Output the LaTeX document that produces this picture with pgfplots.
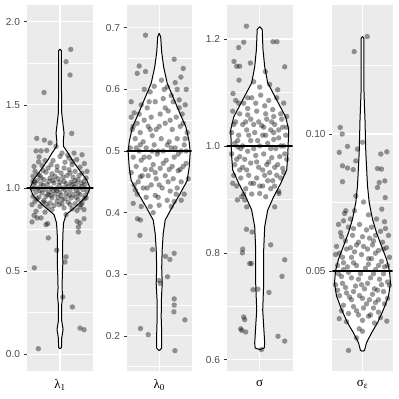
\documentclass[border=0pt]{standalone}
\usepackage{pgfplots}
\pgfplotsset{compat=1.18}
\usepackage{pgfplotstable}
\usepgfplotslibrary{fillbetween}
\usepackage{fontspec}
\setmainfont{Liberation Sans}
\newfontfamily\grk{Liberation Serif}

\definecolor{ggbg}{HTML}{EBEBEB}
\definecolor{ggtick}{HTML}{333333}
\definecolor{ggtext}{HTML}{4D4D4D}

% violin outlines: value, half width (px)
\pgfplotstableread{
v hw
1.835 0
1.825 1.4
1.60 1.4
1.45 1.7
1.38 3
1.33 4
1.28 3.2
1.25 3.5
1.21 8
1.17 12
1.11 19
1.05 26.5
1.00 30
0.95 26.5
0.89 16
0.84 6
0.79 3.5
0.72 2.8
0.62 2.5
0.55 2.8
0.48 2.3
0.40 2
0.35 2.5
0.30 1.7
0.20 1.7
0.15 3
0.10 1.7
0.04 1.4
0.035 0
}\vioA

\pgfplotstableread{
v hw
0.691 0
0.685 1.5
0.66 2.5
0.636 4.5
0.61 8
0.583 15
0.56 21
0.539 26.7
0.515 30
0.498 31
0.474 30
0.452 28
0.431 21
0.409 13
0.388 6
0.366 4
0.34 3
0.311 2.5
0.285 3
0.26 2.2
0.23 2
0.204 2.5
0.18 2.5
0.176 0
}\vioB

\pgfplotstableread{
v hw
1.223 0
1.218 2.5
1.18 3.3
1.148 5
1.118 8
1.086 17
1.054 26
1.03 29
1.005 28.5
0.98 28
0.955 27
0.93 21
0.905 14
0.88 8
0.849 5
0.806 4
0.743 4
0.693 3
0.662 4
0.631 5
0.622 4.5
0.619 0
}\vioC

\pgfplotstableread{
v hw
0.1356 0
0.135 1.3
0.115 1.5
0.105 2.5
0.0933 3.3
0.0811 5
0.075 6.7
0.0689 10
0.064 14
0.0591 19
0.0543 24
0.05 27
0.0457 28
0.0409 26
0.036 21
0.0311 15
0.0274 9
0.0238 4
0.021 2
0.0207 0
}\vioD

% jittered estimates: offset (px), value
\pgfplotstableread{
dx v
10.7 1.833
6 1.759
10 1.679
-16 1.574
11.7 1.328
-23.3 1.298
-15.7 1.288
-10 1.271
-24 1.223
-19 1.223
-13.3 1.226
-21 1.187
-21.5 1.157
7.7 1.197
16.7 1.171
24.3 1.147
-4 1.25
2 1.21
-7 1.165
12 1.14
20 1.125
-26 1.13
-17 1.105
-25 1.10
-12 1.12
-3 1.13
5 1.155
9 1.11
15 1.10
22 1.09
26 1.06
-27 1.07
-20 1.075
-8 1.085
1 1.09
7 1.075
13 1.065
18 1.05
-23 1.045
-16 1.05
-10 1.06
-2 1.055
4 1.04
11 1.035
21 1.03
25 1.02
-26 1.02
-19 1.025
-13 1.02
-6 1.03
-1 1.015
8 1.01
14 1.005
19 1.0
-27 0.995
-22 1.0
-15 0.99
-9 1.0
-4 0.995
3 1.0
10 0.985
16 0.985
23 0.99
27 0.98
-24 0.975
-18 0.97
-11 0.975
-5 0.965
0 0.975
6 0.965
13 0.96
20 0.96
25 0.955
-27 0.95
-21 0.945
-14 0.95
-8 0.94
-2 0.945
5 0.935
11 0.94
18 0.93
24 0.935
-25 0.92
-17 0.915
-10 0.91
-3 0.92
2 0.905
8 0.915
15 0.905
22 0.91
-28 0.90
-20 0.89
-12 0.885
-6 0.895
4 0.88
12 0.875
20 0.885
17 0.865
24 0.87
-24 0.86
-15 0.855
-8 0.87
-26 0.835
-19 0.82
-28 0.796
-23 0.82
-12.3 0.786
-14 0.78
6 0.84
17 0.80
20 0.79
24 0.815
-3 1.105
-18 1.135
9 1.18
-11 1.04
16 1.025
-7 0.985
1 0.955
-16 0.925
-22 1.08
-14 1.095
-5 1.07
3 1.065
10 1.09
19 1.075
24 1.04
-25 1.035
-17 1.015
-7 1.045
0 1.035
6 1.025
15 1.045
22 1.01
-20 0.985
-12 0.96
-3 0.985
5 0.99
12 1.02
18 0.97
26 0.94
-23 0.935
-9 0.955
2 0.93
9 0.955
16 0.945
-14 0.905
-1 0.9
10 0.9
21 0.9
-19 1.06
12 1.16
-9 1.14
4 1.12
-15 1.165
0 1.19
27 1.1
-27 1.04
14 1.21
22 1.2
18.3 0.766
18.3 0.736
-11.7 0.70
-3.3 0.626
6 0.586
5 0.555
-25.7 0.52
2.7 0.345
12.3 0.285
20 0.158
24 0.148
-21.7 0.034
}\ptsA

\pgfplotstableread{
dx v
-13.7 0.688
15 0.649
-20 0.638
-22 0.626
-13.7 0.629
24 0.634
21.7 0.620
2.3 0.615
16 0.611
-5 0.605
27 0.6
8 0.604
-9 0.596
-25 0.562
-28 0.555
-18 0.575
-12 0.57
-4 0.58
4 0.585
12 0.59
20 0.583
26 0.575
-22 0.545
-15 0.55
-8 0.555
1 0.56
9 0.565
17 0.555
23 0.56
-27 0.535
-19 0.53
-11 0.54
-3 0.535
6 0.545
13 0.535
21 0.54
28 0.53
-24 0.52
-16 0.515
-7 0.525
2 0.52
10 0.515
18 0.52
25 0.51
-29 0.505
-20 0.5
-13 0.505
-5 0.51
4 0.5
12 0.505
22 0.5
-26 0.49
-18 0.485
-10 0.49
-2 0.495
7 0.485
15 0.49
27 0.48
-23 0.475
-14 0.47
-6 0.478
1 0.472
10 0.47
19 0.468
24 0.475
-28 0.465
-19 0.458
-11 0.46
-3 0.455
6 0.46
14 0.455
22 0.45
29 0.455
-25 0.445
-16 0.44
-8 0.445
3 0.44
11 0.435
18 0.44
25 0.43
-22 0.43
-13 0.425
-4 0.428
8 0.42
15 0.418
22 0.42
-26 0.415
-18 0.41
-9 0.41
0 0.412
-24 0.437
-21 0.45
20 0.57
-1 0.5
-9 0.535
16 0.505
-23 0.505
-15 0.49
-7 0.5
8 0.51
19 0.495
26 0.52
-20 0.56
-10 0.58
6 0.57
14 0.58
-17 0.46
-8 0.47
4 0.48
13 0.475
21 0.47
-26 0.54
0 0.54
11 0.55
24 0.545
-12 0.44
0 0.445
9 0.45
-19 0.51
27 0.5
-4 0.465
17 0.43
-15 0.6
5 0.6
18 0.6
-28 0.58
-1 0.425
12 0.41
-6 0.4
-21.7 0.390
-18.7 0.388
-19.3 0.363
-6.7 0.340
6.3 0.329
10.7 0.324
15 0.334
8.3 0.296
0 0.29
1 0.285
15 0.26
15 0.25
14.7 0.239
25.7 0.226
-18.7 0.212
-11 0.202
15.7 0.176
}\ptsB

\pgfplotstableread{
dx v
-13.3 1.224
-16 1.194
-21 1.184
13.3 1.195
17.3 1.195
-25.7 1.158
-23 1.149
-20 1.149
-9.3 1.155
25 1.148
-20.7 1.123
5.7 1.139
-26.7 1.098
0 1.11
10 1.115
-6 1.12
18 1.105
-24 1.085
-16 1.08
-8 1.09
1 1.095
9 1.085
17 1.09
24 1.08
-27 1.065
-20 1.06
-12 1.07
-3 1.065
5 1.075
13 1.068
21 1.06
27 1.055
-24 1.045
-17 1.04
-9 1.05
-1 1.045
7 1.05
15 1.04
23 1.035
-28 1.025
-21 1.02
-13 1.03
-5 1.025
3 1.02
11 1.03
19 1.015
26 1.02
-25 1.005
-17 1.0
-9 1.01
0 1.0
8 1.005
16 0.995
24 1.0
-28 0.985
-20 0.98
-12 0.99
-4 0.982
4 0.985
12 0.978
20 0.98
27 0.975
-25 0.965
-17 0.96
-9 0.968
-1 0.96
7 0.965
15 0.96
23 0.958
-26 0.945
-19 0.94
-11 0.945
-3 0.94
5 0.945
13 0.935
21 0.94
-23 0.925
-14 0.92
-6 0.93
3 0.925
11 0.92
19 0.915
-18 0.905
-8 0.91
6 0.905
-12 1.058
2 1.038
14 1.012
-22 0.998
10 0.95
-15 0.975
-21 1.08
-12 1.09
-4 1.08
6 1.06
14 1.055
22 1.05
-26 1.04
-14 1.045
-6 1.04
4 1.035
12 1.045
19 1.03
27 1.035
-22 1.01
-11 1.02
-2 1.01
6 1.02
14 1.025
21 1.0
-19 0.995
-6 0.995
11 0.995
18 0.965
25 0.985
-23 0.975
-13 0.955
-3 0.97
3 0.955
9 0.97
-20 0.955
17 0.945
24 0.95
-9 0.93
8 0.935
-27 0.93
0 0.925
15 0.925
-16 0.91
-22.3 0.899
-15 0.899
-13 0.886
15 0.886
0 0.911
19.3 0.911
-13.3 0.844
-7.7 0.839
11 0.815
-17 0.807
-17.3 0.80
-10 0.78
-8.3 0.78
25 0.787
22.3 0.756
-6.7 0.731
-1.7 0.732
9.3 0.726
-16 0.68
-15 0.675
-19 0.658
-14 0.652
-18 0.655
18.3 0.644
25 0.635
1.7 0.619
}\ptsC

\pgfplotstableread{
dx v
4.7 0.1356
-8.3 0.1301
-22.3 0.1024
-20.3 0.100
-15 0.0955
-23.3 0.0933
0 0.097
-5 0.0945
-20 0.0884
-15 0.0876
-9.3 0.0870
-20 0.0826
-6.7 0.0902
18.3 0.0927
24.3 0.0935
15 0.0874
19 0.0872
16.7 0.0823
22.3 0.0829
15 0.0805
22.7 0.0768
-6.7 0.0774
1 0.0752
19.3 0.0726
-16.7 0.072
-19 0.0683
-18 0.071
-8 0.072
6 0.0705
14 0.069
22 0.068
-24 0.067
-14 0.066
-3 0.067
9 0.066
18 0.0645
26 0.063
-21 0.0625
-10 0.063
0 0.0625
11 0.061
-26 0.059
-16 0.058
-6 0.0595
5 0.058
16 0.0575
24 0.0585
-20 0.055
-11 0.055
-1 0.056
9 0.0545
19 0.0535
27 0.055
-25 0.052
-15 0.0515
-6 0.052
3 0.051
13 0.0505
22 0.0515
-21 0.048
-11 0.0475
-2 0.049
8 0.0475
17 0.047
25 0.046
-27 0.045
-17 0.044
-7 0.0445
2 0.0435
12 0.0435
21 0.0425
-23 0.041
-13 0.0405
-3 0.041
7 0.0395
16 0.0395
25 0.04
-19 0.0375
-9 0.037
1 0.0365
11 0.0365
-14 0.0345
-4 0.034
6 0.0335
16 0.035
27 0.0448
-27 0.056
-12 0.069
10 0.0595
-19 0.0505
15 0.043
-8 0.057
20 0.0605
-1 0.045
6 0.0525
-22 0.064
-9 0.0655
4 0.065
13 0.063
23 0.0655
-17 0.061
-4 0.0605
7 0.062
21 0.058
-23 0.0565
-12 0.0585
1 0.059
13 0.0565
-19 0.053
-9 0.053
6 0.0545
16 0.052
25 0.052
-24 0.049
-14 0.0495
-4 0.047
11 0.049
21 0.049
-20 0.0455
-9 0.0425
5 0.0455
19 0.045
-25 0.043
-16 0.042
0 0.040
10 0.0415
22 0.038
-21 0.0355
-11 0.0395
4 0.038
13 0.0385
-6 0.0355
8 0.034
18 0.033
-16 0.0315
0 0.032
12 0.031
-23.3 0.0326
24.3 0.0317
-3.3 0.0289
0 0.028
-6 0.0256
-14 0.021
}\ptsD

\pgfplotsset{
  ggpanel/.style={
    scale only axis, height=366bp, anchor=south west,
    axis background/.style={fill=ggbg},
    axis line style={draw=none},
    tick align=outside, ytick pos=left,
    major tick length=3.2bp, minor tick length=0pt,
    y tick style={ggtick, line width=0.6bp},
    x tick style={draw=none},
    xtick={0},
    xmajorgrids, ymajorgrids, yminorgrids,
    major grid style={white, line width=1.1bp},
    minor grid style={white, line width=0.55bp},
    /pgf/number format/assume math mode=true,
    yticklabel style={font=\fontsize{10.2}{12}\selectfont, text=ggtext,
      /pgf/number format/fixed, /pgf/number format/fixed zerofill,
      /pgf/number format/precision=1},
    xticklabel style={font=\grk\fontsize{13}{14}\selectfont, text=black,
      yshift=-2bp},
  },
  pts/.style={only marks, mark=*, mark size=2.7bp,
    mark options={draw opacity=0, fill=black, fill opacity=0.4}},
  vio/.style={black, line width=1bp},
  truth/.style={black, line width=1.4bp},
}

\begin{document}
\begin{tikzpicture}

% lambda_1
\begin{axis}[ggpanel, at={(26.7bp,28bp)}, width=66.7bp,
  xmin=-33.35, xmax=33.35, ymin=-0.1, ymax=2.1,
  ytick={0,0.5,1,1.5,2}, minor ytick={0.25,0.75,1.25,1.75},
  xticklabels={λ\textsubscript{1}}]
\addplot[draw=none, name path=R] table[x=hw, y=v] {\vioA};
\addplot[draw=none, name path=L] table[x expr=-\thisrow{hw}, y=v] {\vioA};
\addplot[white] fill between[of=R and L];
\addplot[vio] table[x=hw, y=v] {\vioA};
\addplot[vio] table[x expr=-\thisrow{hw}, y=v] {\vioA};
\addplot[pts] table[x=dx, y=v] {\ptsA};
\addplot[truth] coordinates {(-40,1) (40,1)};
\end{axis}

% lambda_0
\begin{axis}[ggpanel, at={(126.7bp,28bp)}, width=65bp,
  xmin=-32.5, xmax=32.5, ymin=0.143, ymax=0.737,
  ytick={0.2,0.3,0.4,0.5,0.6,0.7},
  minor ytick={0.15,0.25,0.35,0.45,0.55,0.65},
  xticklabels={λ\textsubscript{0}}]
\addplot[draw=none, name path=R] table[x=hw, y=v] {\vioB};
\addplot[draw=none, name path=L] table[x expr=-\thisrow{hw}, y=v] {\vioB};
\addplot[white] fill between[of=R and L];
\addplot[vio] table[x=hw, y=v] {\vioB};
\addplot[vio] table[x expr=-\thisrow{hw}, y=v] {\vioB};
\addplot[pts] table[x=dx, y=v] {\ptsB};
\addplot[truth] coordinates {(-40,0.5) (40,0.5)};
\end{axis}

% sigma
\begin{axis}[ggpanel, at={(226.7bp,28bp)}, width=66bp,
  xmin=-33, xmax=33, ymin=0.579, ymax=1.2636,
  ytick={0.6,0.8,1.0,1.2}, minor ytick={0.7,0.9,1.1},
  xticklabels={σ}]
\addplot[draw=none, name path=R] table[x=hw, y=v] {\vioC};
\addplot[draw=none, name path=L] table[x expr=-\thisrow{hw}, y=v] {\vioC};
\addplot[white] fill between[of=R and L];
\addplot[vio] table[x=hw, y=v] {\vioC};
\addplot[vio] table[x expr=-\thisrow{hw}, y=v] {\vioC};
\addplot[pts] table[x=dx, y=v] {\ptsC};
\addplot[truth] coordinates {(-40,1) (40,1)};
\end{axis}

% sigma_epsilon
\begin{axis}[ggpanel, at={(332.3bp,28bp)}, width=60.4bp,
  xmin=-30.2, xmax=30.2, ymin=0.0135, ymax=0.1471,
  ytick={0.05,0.10}, minor ytick={0.025,0.075,0.125},
  yticklabel style={/pgf/number format/precision=2},
  xticklabels={σ\textsubscript{ε}}]
\addplot[draw=none, name path=R] table[x=hw, y=v] {\vioD};
\addplot[draw=none, name path=L] table[x expr=-\thisrow{hw}, y=v] {\vioD};
\addplot[white] fill between[of=R and L];
\addplot[vio] table[x=hw, y=v] {\vioD};
\addplot[vio] table[x expr=-\thisrow{hw}, y=v] {\vioD};
\addplot[pts] table[x=dx, y=v] {\ptsD};
\addplot[truth] coordinates {(-40,0.05) (40,0.05)};
\end{axis}

\pgfresetboundingbox
\path[use as bounding box] (0,0) rectangle (399bp,399bp);
\end{tikzpicture}
\end{document}
